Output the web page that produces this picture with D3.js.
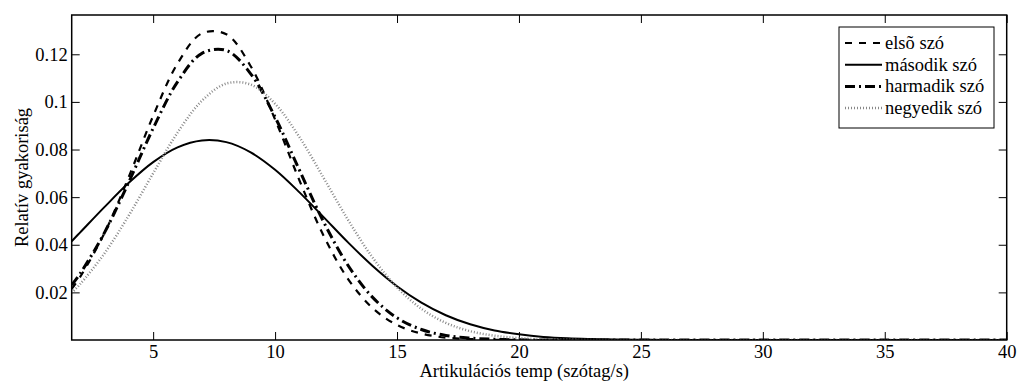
<!DOCTYPE html>
<html>
<head>
<meta charset="utf-8">
<script src="https://cdn.jsdelivr.net/npm/d3@7"></script>
<style>
  html, body { margin: 0; padding: 0; background: #fff; }
  svg { display: block; }
  .tick line { stroke: #000; }
  .domain { display: none; }
</style>
</head>
<body>
<div id="chart"></div>
<script>
// articulation tempo (syllables/s) sample points
const tempo = [1.66, 2, 3, 4, 5, 6, 7, 8, 9, 10, 11, 12, 13, 14, 15, 16, 17, 18, 19, 20,
               21, 22, 23, 24, 25, 26, 28, 30, 35, 40];

// relative frequency
const elso = [0.0215, 0.0264, 0.0448, 0.0685, 0.0941, 0.1161, 0.1288, 0.1284, 0.1150, 0.0926,
              0.0670, 0.0436, 0.0255, 0.0134, 0.0063, 0.0027, 0.0010, 0.0004, 0.0001, 0,
              0, 0, 0, 0, 0, 0, 0, 0, 0, 0];
const masodik = [0.0415, 0.0451, 0.0558, 0.0660, 0.0747, 0.0809, 0.0838, 0.0831, 0.0788, 0.0715,
                 0.0620, 0.0515, 0.0409, 0.0311, 0.0226, 0.0157, 0.0104, 0.0066, 0.0040, 0.0024,
                 0.0013, 0.0007, 0.0004, 0.0002, 0.0001, 0, 0, 0, 0, 0];
const harmadik = [0.0231, 0.0278, 0.0450, 0.0663, 0.0889, 0.1084, 0.1204, 0.1216, 0.1118, 0.0936,
                  0.0713, 0.0494, 0.0312, 0.0179, 0.0093, 0.0044, 0.0019, 0.0008, 0.0003, 0.0001,
                  0, 0, 0, 0, 0, 0, 0, 0, 0, 0];
const negyedik = [0.0198, 0.0234, 0.0363, 0.0523, 0.0700, 0.0871, 0.1005, 0.1077, 0.1073, 0.0992,
                  0.0852, 0.0679, 0.0503, 0.0346, 0.0221, 0.0131, 0.0072, 0.0037, 0.0018, 0.0008,
                  0.0003, 0.0001, 0, 0, 0, 0, 0, 0, 0, 0];

const seriesNames = ["elsõ szó", "második szó", "harmadik szó", "negyedik szó"];
const xTicks = [5, 10, 15, 20, 25, 30, 35, 40];
const yTicks = [0.02, 0.04, 0.06, 0.08, 0.1, 0.12];

const width = 1017, height = 381;
const margin = { top: 15, right: 10.3, bottom: 41, left: 71.7 };
const plotW = width - margin.left - margin.right;
const plotH = height - margin.top - margin.bottom;

const serif = "'Liberation Serif', 'Times New Roman', Times, serif";
const fontSize = "18.5px";

const styles = [
    { stroke: "#000", width: 2.2, dash: "7,7" },
    { stroke: "#000", width: 2,   dash: null },
    { stroke: "#000", width: 3,   dash: "10,4,2,4" },
    { stroke: "#888", width: 2.5, dash: "1,2" }
];
const series = [elso, masodik, harmadik, negyedik];

const svg = d3.select("#chart").append("svg")
    .attr("width", width)
    .attr("height", height);

const x = d3.scaleLinear().domain([1.66, 40]).range([0, plotW]);
const y = d3.scaleLinear().domain([0, 0.1365]).range([plotH, 0]);

const g = svg.append("g").attr("transform", `translate(${margin.left},${margin.top})`);

g.append("clipPath").attr("id", "plot-clip")
    .append("rect").attr("width", plotW).attr("height", plotH);

// axes with inward ticks, MATLAB box style
const styleAxis = a => {
    a.attr("font-family", serif).attr("font-size", fontSize);
    a.selectAll("text")
        .attr("font-family", serif)
        .style("font-family", serif)
        .attr("font-size", fontSize)
        .attr("fill", "#000");
};
g.append("g")
    .attr("transform", `translate(0,${plotH})`)
    .call(d3.axisBottom(x).tickValues(xTicks).tickSize(-8).tickPadding(5).tickFormat(d => String(d)))
    .call(styleAxis);
g.append("g")
    .call(d3.axisTop(x).tickValues(xTicks).tickSize(-8).tickFormat(""));
g.append("g")
    .call(d3.axisLeft(y).tickValues(yTicks).tickSize(-8).tickPadding(4).tickFormat(d => String(d)))
    .call(styleAxis);
g.append("g")
    .attr("transform", `translate(${plotW},0)`)
    .call(d3.axisRight(y).tickValues(yTicks).tickSize(-8).tickFormat(""));

// curves
const line = d3.line()
    .x((d, i) => x(tempo[i]))
    .y(d => y(d))
    .curve(d3.curveCatmullRom);

const curves = g.append("g").attr("clip-path", "url(#plot-clip)");
series.forEach((vals, i) => {
    curves.append("path")
        .attr("d", line(vals))
        .attr("fill", "none")
        .attr("stroke", styles[i].stroke)
        .attr("stroke-width", styles[i].width)
        .attr("stroke-dasharray", styles[i].dash);
});

// box
g.append("rect")
    .attr("width", plotW).attr("height", plotH)
    .attr("fill", "none").attr("stroke", "#000").attr("stroke-width", 1.5);

// axis labels
svg.append("text")
    .attr("x", margin.left + plotW / 2 - 15)
    .attr("y", 377)
    .attr("text-anchor", "middle")
    .style("font-family", serif)
    .attr("font-size", fontSize)
    .text("Artikulációs temp (szótag/s)");
svg.append("text")
    .attr("transform", `translate(28,${margin.top + plotH / 2}) rotate(-90)`)
    .attr("text-anchor", "middle")
    .style("font-family", serif)
    .attr("font-size", fontSize)
    .text("Relatív gyakoriság");

// legend
const legend = svg.append("g").attr("transform", "translate(839,27)");
legend.append("rect")
    .attr("width", 155).attr("height", 101)
    .attr("fill", "#fff").attr("stroke", "#000").attr("stroke-width", 1);
seriesNames.forEach((name, i) => {
    const ly = 16 + i * 21.7;
    legend.append("line")
        .attr("x1", 6).attr("x2", 43).attr("y1", ly).attr("y2", ly)
        .attr("stroke", styles[i].stroke)
        .attr("stroke-width", styles[i].width)
        .attr("stroke-dasharray", styles[i].dash);
    legend.append("text")
        .attr("x", 46).attr("y", ly + 6)
        .style("font-family", serif)
        .attr("font-size", fontSize)
        .text(name);
});
</script>
</body>
</html>
